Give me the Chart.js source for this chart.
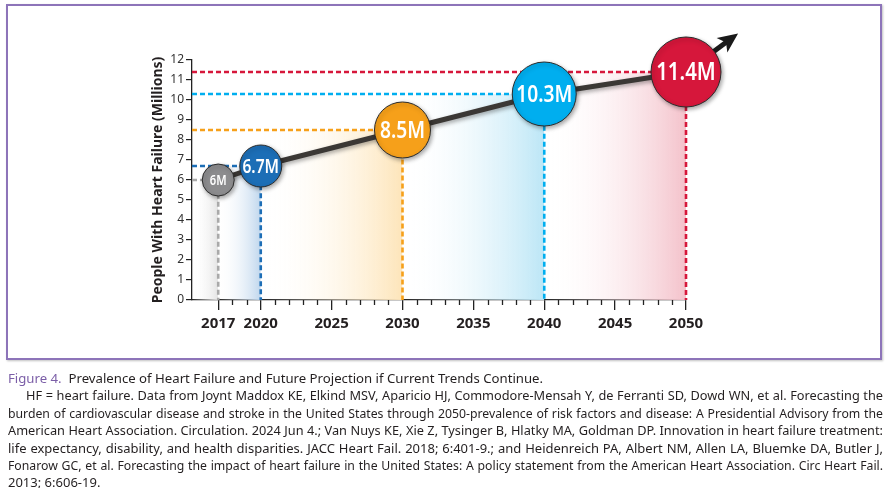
<!DOCTYPE html>
<html>
<head>
<meta charset="utf-8">
<script src="https://cdn.jsdelivr.net/npm/chart.js@4.4.1/dist/chart.umd.min.js"></script>
<style>
  body { margin: 0; background: #fff; width: 891px; height: 488px; overflow: hidden; }
  #wrap { position: absolute; left: 0; top: 0; width: 891px; height: 362px; }
  #frame { position: absolute; left: 6px; top: 4px; width: 876px; height: 356px; box-sizing: border-box;
           border: 2px solid #8d74b9; box-shadow: 1px 1px 2px rgba(0,0,0,0.25); pointer-events: none; }
  #cap { position: absolute; left: 8px; top: 370px; width: 875px; color: #231f20;
         font-family: 'Noto Sans', 'Liberation Sans', sans-serif; font-size: 13px; line-height: 17.4px; }
  #cap div { white-space: nowrap; }
  #cap .j { text-align: justify; text-align-last: justify; }
  #cap .t { font-size: 13.2px; }
  #cap .fig { color: #7b5ea7; }
</style>
</head>
<body>
<div id="wrap"><canvas id="hf" width="891" height="362"></canvas></div>
<div id="frame"></div>
<div id="cap">
  <div class="t"><span class="fig">Figure 4.</span>&nbsp; Prevalence of Heart Failure and Future Projection if Current Trends Continue.</div>
  <div class="j" style="padding-left:18px"><span>HF = heart failure. Data from Joynt Maddox KE, Elkind MSV, Aparicio HJ, Commodore-Mensah Y, de Ferranti SD, Dowd WN, et al. Forecasting the</span></div>
  <div class="j"><span>burden of cardiovascular disease and stroke in the United States through 2050-prevalence of risk factors and disease: A Presidential Advisory from the</span></div>
  <div class="j"><span>American Heart Association. Circulation. 2024 Jun 4.; Van Nuys KE, Xie Z, Tysinger B, Hlatky MA, Goldman DP. Innovation in heart failure treatment:</span></div>
  <div class="j"><span>life expectancy, disability, and health disparities. JACC Heart Fail. 2018; 6:401-9.; and Heidenreich PA, Albert NM, Allen LA, Bluemke DA, Butler J,</span></div>
  <div class="j"><span>Fonarow GC, et al. Forecasting the impact of heart failure in the United States: A policy statement from the American Heart Association. Circ Heart Fail.</span></div>
  <div>2013; 6:606-19.</div>
</div>
<script>
const FAMILY = "'Noto Sans', 'Liberation Sans', sans-serif";

// chart values
const years = [2017, 2020, 2030, 2040, 2050];
const prevalence = [6, 6.7, 8.5, 10.3, 11.4];
const pointLabels = ['6M', '6.7M', '8.5M', '10.3M', '11.4M'];
const xTickYears = [2017, 2020, 2025, 2030, 2035, 2040, 2045, 2050];
const arrowEnd = { x: 2053.05, y: 13.0 };

// styling
const xMin = 2015.15;
const pointColors = ['#8c8c8e', '#1c6eb6', '#f6a01a', '#00aeef', '#d6173b'];
const dashColors = ['#a9a9a9', '#1c6eb6', '#f6a01a', '#00aeef', '#d6173b'];
const bandColors = ['#e4e4e4', '#c0d7ee', '#fde5ba', '#bce6f6', '#f4c2cb'];
const pointSizes = [16, 21, 28, 32, 35];
const labelSizes = [14, 19.5, 24, 24, 25.5];

// squeeze each justified caption line onto one row
document.querySelectorAll('#cap .j').forEach((line) => {
  const span = line.querySelector('span');
  const avail = line.clientWidth - parseFloat(getComputedStyle(line).paddingLeft);
  line.classList.remove('j');
  let size = 13;
  while (span.getBoundingClientRect().width > avail - 2 && size > 9) {
    size -= 0.25;
    line.style.fontSize = size + 'px';
  }
  line.classList.add('j');
});

function bandFill(start, end, color) {
  return (ctx) => {
    const chart = ctx.chart;
    if (!chart.chartArea) return color;
    const xs = chart.scales.x;
    const g = chart.ctx.createLinearGradient(xs.getPixelForValue(start), 0, xs.getPixelForValue(end), 0);
    g.addColorStop(0, 'rgba(255,255,255,0)');
    g.addColorStop(1, color);
    return g;
  };
}

const datasets = [];

// gradient bands under each level
years.forEach((yr, i) => {
  const start = i === 0 ? xMin : years[i - 1];
  datasets.push({
    type: 'line',
    data: [{ x: start, y: prevalence[i] }, { x: yr, y: prevalence[i] }],
    borderWidth: 0,
    pointRadius: 0,
    fill: 'origin',
    backgroundColor: bandFill(start, yr, bandColors[i]),
    order: 10
  });
});

// dashed guide lines
years.forEach((yr, i) => {
  datasets.push({
    type: 'line',
    data: [{ x: xMin, y: prevalence[i] }, { x: yr, y: prevalence[i] }, { x: yr, y: 0 }],
    borderColor: dashColors[i],
    borderWidth: 2.6,
    borderDash: [5, 3],
    pointRadius: 0,
    fill: false,
    clip: false,
    order: 8 - i * 0.1
  });
});

// arrow continuing past 2050
datasets.push({
  type: 'line',
  data: [{ x: years[years.length - 1], y: prevalence[prevalence.length - 1] }, arrowEnd],
  borderColor: '#1a1a1a',
  borderWidth: 5,
  pointRadius: 0,
  clip: false,
  order: 3
});
const ARROW = datasets.length - 1;

// main series with bubbles
datasets.push({
  type: 'line',
  data: years.map((yr, i) => ({ x: yr, y: prevalence[i] })),
  borderColor: '#3b3835',
  borderWidth: 5,
  pointRadius: pointSizes,
  pointHoverRadius: pointSizes,
  pointBackgroundColor: pointColors,
  pointBorderColor: '#2b2b2b',
  pointBorderWidth: 1,
  fill: false,
  clip: false,
  order: 1
});
const MAIN = datasets.length - 1;

const arrowHead = {
  id: 'arrowHead',
  afterDatasetDraw(chart, args) {
    if (args.index !== ARROW) return;
    const pts = chart.getDatasetMeta(ARROW).data;
    const a = pts[0], b = pts[1];
    const ang = Math.atan2(b.y - a.y, b.x - a.x);
    const len = 20, half = 9;
    const ctx = chart.ctx;
    ctx.save();
    ctx.translate(b.x, b.y);
    ctx.rotate(ang);
    ctx.fillStyle = '#1a1a1a';
    ctx.beginPath();
    ctx.moveTo(len * 0.55, 0);
    ctx.lineTo(-len * 0.45, -half);
    ctx.lineTo(-len * 0.2, 0);
    ctx.lineTo(-len * 0.45, half);
    ctx.closePath();
    ctx.fill();
    ctx.restore();
  }
};

const bubbleShadow = {
  id: 'bubbleShadow',
  beforeDatasetDraw(chart, args) {
    if (args.index !== MAIN) return;
    const ctx = chart.ctx;
    ctx.save();
    ctx.shadowColor = 'rgba(0,0,0,0.35)';
    ctx.shadowBlur = 4;
    ctx.shadowOffsetX = 1.5;
    ctx.shadowOffsetY = 2;
  },
  afterDatasetDraw(chart, args) {
    if (args.index !== MAIN) return;
    chart.ctx.restore();
  }
};

// white labels in the bubbles, squeezed sideways to look condensed
const bubbleLabels = {
  id: 'bubbleLabels',
  afterDatasetsDraw(chart) {
    const ctx = chart.ctx;
    const meta = chart.getDatasetMeta(MAIN);
    meta.data.forEach((pt, i) => {
      ctx.save();
      ctx.translate(pt.x, pt.y + 1);
      ctx.scale(0.8, 1);
      ctx.fillStyle = '#ffffff';
      ctx.textAlign = 'center';
      ctx.textBaseline = 'middle';
      ctx.font = '600 ' + labelSizes[i] + 'px ' + FAMILY;
      ctx.fillText(pointLabels[i], 0, 0);
      ctx.restore();
    });
  }
};

const minorTicks = {
  id: 'minorTicks',
  afterDraw(chart) {
    const xs = chart.scales.x;
    const ctx = chart.ctx;
    ctx.save();
    ctx.strokeStyle = '#222';
    ctx.lineWidth = 1.3;
    for (let yr = xTickYears[0]; yr <= xTickYears[xTickYears.length - 1]; yr++) {
      if (xTickYears.includes(yr)) continue;
      const px = Math.round(xs.getPixelForValue(yr)) + 0.5;
      ctx.beginPath();
      ctx.moveTo(px, xs.top);
      ctx.lineTo(px, xs.top + 5);
      ctx.stroke();
    }
    ctx.restore();
  }
};

new Chart(document.getElementById('hf'), {
  type: 'line',
  data: { datasets },
  options: {
    responsive: false,
    animation: false,
    events: [],
    layout: { padding: { left: 144, top: 60, right: 205, bottom: 22 } },
    plugins: { legend: { display: false }, tooltip: { enabled: false } },
    scales: {
      x: {
        type: 'linear',
        min: xMin,
        max: 2050,
        afterBuildTicks: (scale) => { scale.ticks = xTickYears.map(v => ({ value: v })); },
        afterFit: (scale) => { scale.height = 40; },
        ticks: {
          callback: (v) => String(v),
          font: { family: FAMILY, size: 15, weight: 'bold' },
          color: '#231f20',
          padding: 5,
          maxRotation: 0,
          autoSkip: false
        },
        grid: { drawOnChartArea: false, tickLength: 10, color: '#222', lineWidth: 1.3 },
        border: { color: '#222', width: 1.3 }
      },
      y: {
        min: 0,
        max: 12,
        afterFit: (scale) => { scale.width = 48; },
        ticks: {
          stepSize: 1,
          font: { family: FAMILY, size: 12 },
          color: '#333',
          padding: 2
        },
        grid: { drawOnChartArea: false, tickLength: 6, color: '#222', lineWidth: 1.2 },
        border: { color: '#222', width: 1.3 },
        title: {
          display: true,
          text: 'People With Heart Failure (Millions)',
          font: { family: FAMILY, size: 14, weight: 'bold' },
          color: '#231f20',
          padding: { top: 6, bottom: 0 }
        }
      }
    }
  },
  plugins: [arrowHead, bubbleShadow, bubbleLabels, minorTicks]
});
</script>
</body>
</html>
